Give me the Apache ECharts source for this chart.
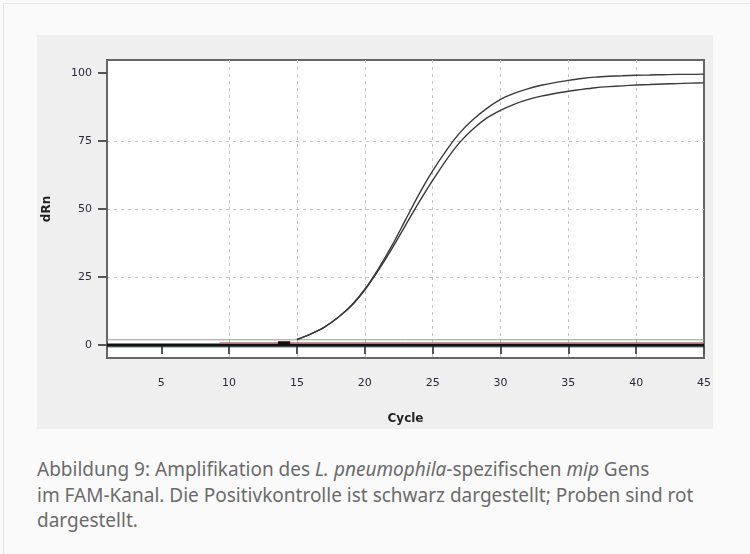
<!DOCTYPE html>
<html>
<head>
<meta charset="utf-8">
<script src="https://cdn.jsdelivr.net/npm/echarts@6/dist/echarts.min.js"></script>
<style>
  html, body { margin: 0; padding: 0; background: #fafafa; }
  #frame {
    position: absolute; left: 3px; top: 3px; width: 750px; height: 560px;
    border-top: 1px solid #e6e6e6; border-left: 1px solid #e6e6e6;
  }
  #chart {
    position: absolute; left: 37px; top: 35px; width: 676px; height: 394px;
    background: #efefef;
  }
  #caption {
    position: absolute; left: 37px; top: 457px; width: 690px;
    font-family: "Noto Sans", sans-serif;
    font-size: 19px; line-height: 25.5px; color: #6b6b6b;
  }
</style>
</head>
<body>
<div id="frame"></div>
<div id="chart"></div>
<div id="caption">Abbildung 9: Amplifikation des <i>L. pneumophila</i>-spezifischen <i>mip</i> Gens<br>im FAM-Kanal. Die Positivkontrolle ist schwarz dargestellt; Proben sind rot<br>dargestellt.</div>
<script>
  // Zyklen der Kurven (Positivkontrolle)
  const curveCycles = [15, 16, 17, 18, 19, 20, 21, 22, 23, 24, 25, 26, 27, 28, 29, 30,
    31, 32, 33, 34, 35, 36, 37, 38, 39, 40, 41, 42, 43, 44, 45]
  const controlA = [2, 4, 6.5, 10, 14.5, 20.5, 28, 36.5, 46, 55.5, 64, 71.5, 78, 83, 87, 90.3,
    92.5, 94.2, 95.5, 96.5, 97.3, 98, 98.5, 98.8, 99, 99.2, 99.3, 99.4, 99.5, 99.5, 99.6]
  const controlB = [2, 4, 6.5, 10, 14.3, 20.2, 27.4, 35.4, 44, 52.5, 60.5, 68, 74.5, 79.5, 83.5, 86.3,
    88.5, 90.2, 91.5, 92.5, 93.3, 94, 94.6, 95, 95.3, 95.6, 95.8, 96, 96.1, 96.3, 96.4]
  // flache Linien an der Basis
  const baseCycles = [1, 45]
  const baseBlack = [0, 0]
  const baseTeal = [-0.7, -0.7]
  const threshold = [1.9, 1.9]
  const sampleCycles = [9.3, 45]
  const samples = [0.8, 0.8]
  const stubCycles = [13.6, 14.5]
  const stub = [0.8, 0.8]

  const xTicks = [5, 10, 15, 20, 25, 30, 35, 40, 45]
  const yTicks = [0, 25, 50, 75, 100]

  function pairs(xs, ys) {
    return xs.map((x, i) => [x, ys[i]])
  }

  const chart = echarts.init(document.getElementById('chart'))
  const tickFont = { color: '#2a2a3a', fontSize: 11, fontFamily: 'DejaVu Sans' }
  const gridLine = { show: true, showMaxLine: false, showMinLine: false,
    lineStyle: { color: '#c4c4c4', type: [3, 4], width: 1 } }
  const flat = (name, xs, ys, color, width) => ({
    name: name, type: 'line', data: pairs(xs, ys), symbol: 'none', silent: true,
    lineStyle: { color: color, width: width }
  })

  chart.setOption({
    animation: false,
    grid: {
      left: 70, top: 25, right: 9, bottom: 71,
      containLabel: false, outerBoundsMode: 'none',
      show: true, backgroundColor: '#fff', borderColor: '#666', borderWidth: 2
    },
    xAxis: {
      type: 'value', min: 1, max: 45,
      name: 'Cycle', nameLocation: 'middle', nameGap: 55,
      nameTextStyle: { color: '#222', fontWeight: 'bold', fontSize: 12, fontFamily: 'DejaVu Sans' },
      axisLine: { show: true, lineStyle: { color: '#666', width: 2 } },
      axisTick: { show: true, length: 9, customValues: xTicks, lineStyle: { color: '#555', width: 2 } },
      axisLabel: Object.assign({ customValues: xTicks, margin: 20 }, tickFont),
      splitLine: gridLine
    },
    yAxis: {
      type: 'value', min: -4.8, max: 104.8,
      name: 'dRn', nameLocation: 'middle', nameGap: 54,
      nameTextStyle: { color: '#222', fontWeight: 'bold', fontSize: 12, fontFamily: 'DejaVu Sans' },
      axisLine: { show: true, lineStyle: { color: '#666', width: 2 } },
      axisTick: { show: true, length: 9, customValues: yTicks, lineStyle: { color: '#555', width: 2 } },
      axisLabel: Object.assign({ customValues: yTicks, margin: 15 }, tickFont),
      splitLine: gridLine
    },
    series: [
      flat('Schwelle', baseCycles, threshold, '#9a9a9a', 1),
      flat('Basis', baseCycles, baseTeal, '#2f4b4b', 1),
      flat('Basis schwarz', baseCycles, baseBlack, '#111', 3),
      flat('Proben', sampleCycles, samples, '#c86a6a', 1.2),
      flat('Kontrolle Ansatz', stubCycles, stub, '#1a0a0a', 3),
      {
        name: 'Positivkontrolle A', type: 'line', data: pairs(curveCycles, controlA),
        smooth: 0.3, symbol: 'none', lineStyle: { color: '#3a3a3a', width: 1.4 }
      },
      {
        name: 'Positivkontrolle B', type: 'line', data: pairs(curveCycles, controlB),
        smooth: 0.3, symbol: 'none', lineStyle: { color: '#3a3a3a', width: 1.4 }
      }
    ]
  })
</script>
</body>
</html>
